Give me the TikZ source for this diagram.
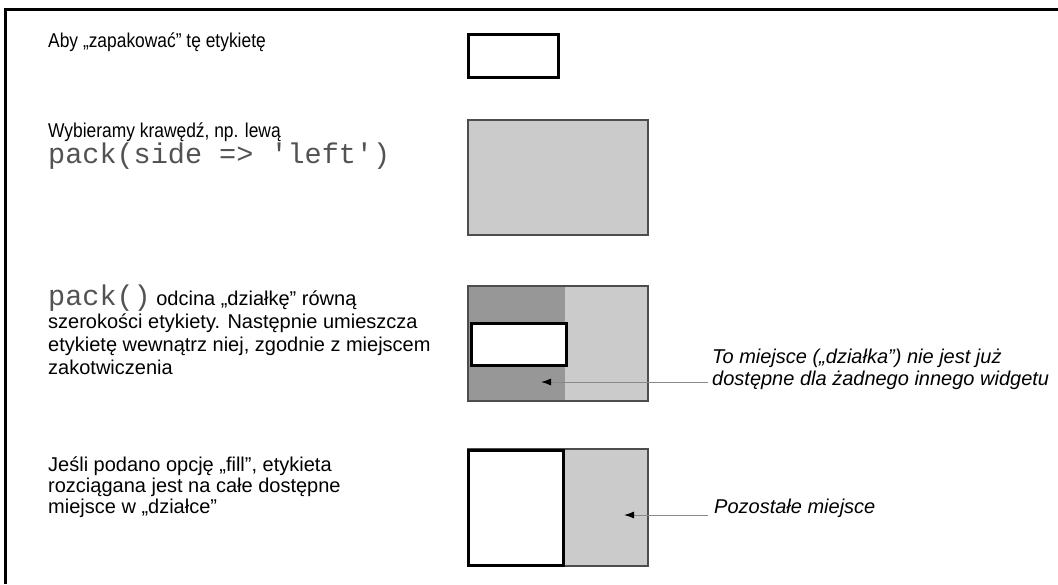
\documentclass[tikz,border=0pt]{standalone}
\usepackage{fontspec}
\setmainfont{Liberation Sans}
\setmonofont{Liberation Mono}
\newfontfamily\narrowfont[FakeStretch=0.87]{Liberation Sans}
\usetikzlibrary{arrows.meta}
\definecolor{lightfill}{HTML}{CBCBCB}
\definecolor{darkfill}{HTML}{979797}
\definecolor{edge}{HTML}{4D4D4D}
\definecolor{pointerline}{HTML}{8A8A8A}
\newcommand{\codefont}{\fontsize{28.5}{28.5}\selectfont\ttfamily\color{black!68}}
\begin{document}
\begin{tikzpicture}[x=1pt,y=-1pt,
  small/.style={anchor=base west, inner sep=0pt, align=left,
    font=\fontsize{20}{22}\selectfont\narrowfont},
  txt/.style={anchor=base west, inner sep=0pt, align=left,
    font=\fontsize{20}{22.7}\selectfont},
  note/.style={anchor=base west, inner sep=0pt, align=left,
    font=\fontsize{20}{22}\selectfont\itshape},
  area/.style={draw=edge, line width=1.5pt, minimum width=180pt, minimum height=115pt,
    anchor=north west, inner sep=0pt},
  lbl/.style={draw=black, line width=3pt, fill=white, anchor=north west, inner sep=0pt},
  pointer/.style={draw=pointerline, line width=1pt, -{Latex[black,length=10pt,width=7pt]}}
]
\useasboundingbox (0,0) rectangle (1058,584);
% frame
\draw[line width=3pt] (1058,9) -- (5,9) -- (5,584);

% row 1
\node[small] (t1) at (48,47) {Aby „zapakować” tę etykietę};
\node[lbl, minimum width=90pt, minimum height=43pt] (lab1) at (467,33) {};

% row 2
\node[small] (t2) at (48,137) {Wybieramy krawędź, np. lewą};
\node[anchor=base west, inner sep=0pt, font=\codefont] (c2) at (48,163) {pack(side => 'left')};
\node[area, fill=lightfill] (space2) at (467,119) {};

% row 3
\node[txt] (t3) at (48,374) {{\codefont pack()} odcina „działkę” równą\\
szerokości etykiety. Następnie umieszcza\\
etykietę wewnątrz niej, zgodnie z miejscem\\
zakotwiczenia};
\node[area, fill=lightfill] (space3) at (467,285) {};
\fill[darkfill] (space3.north west) rectangle ([xshift=98pt]space3.south west);
\node[area] (space3b) at (467,285) {};
\node[lbl, minimum width=95pt, minimum height=42pt] (lab3) at (470,322) {};
\node[note] (n3) at (712,385) {To miejsce („działka”) nie jest już\\dostępne dla żadnego innego widgetu};
\coordinate (p3s) at (708,382);
\coordinate (p3e) at (541,382);
\draw[pointer] (p3s) -- (p3e);

% row 4
\node[txt, font=\fontsize{20}{21}\selectfont] (t4) at (48,513) {Jeśli podano opcję „fill”, etykieta\\
rozciągana jest na całe dostępne\\
miejsce w „działce”};
\node[area, fill=lightfill, minimum height=117pt] (space4) at (467,448) {};
\node[lbl, minimum width=95pt, minimum height=115pt] (lab4) at (467,449) {};
\node[note] (n4) at (714,513) {Pozostałe miejsce};
\coordinate (p4s) at (708,515);
\coordinate (p4e) at (624,515);
\draw[pointer] (p4s) -- (p4e);
\end{tikzpicture}
\end{document}
